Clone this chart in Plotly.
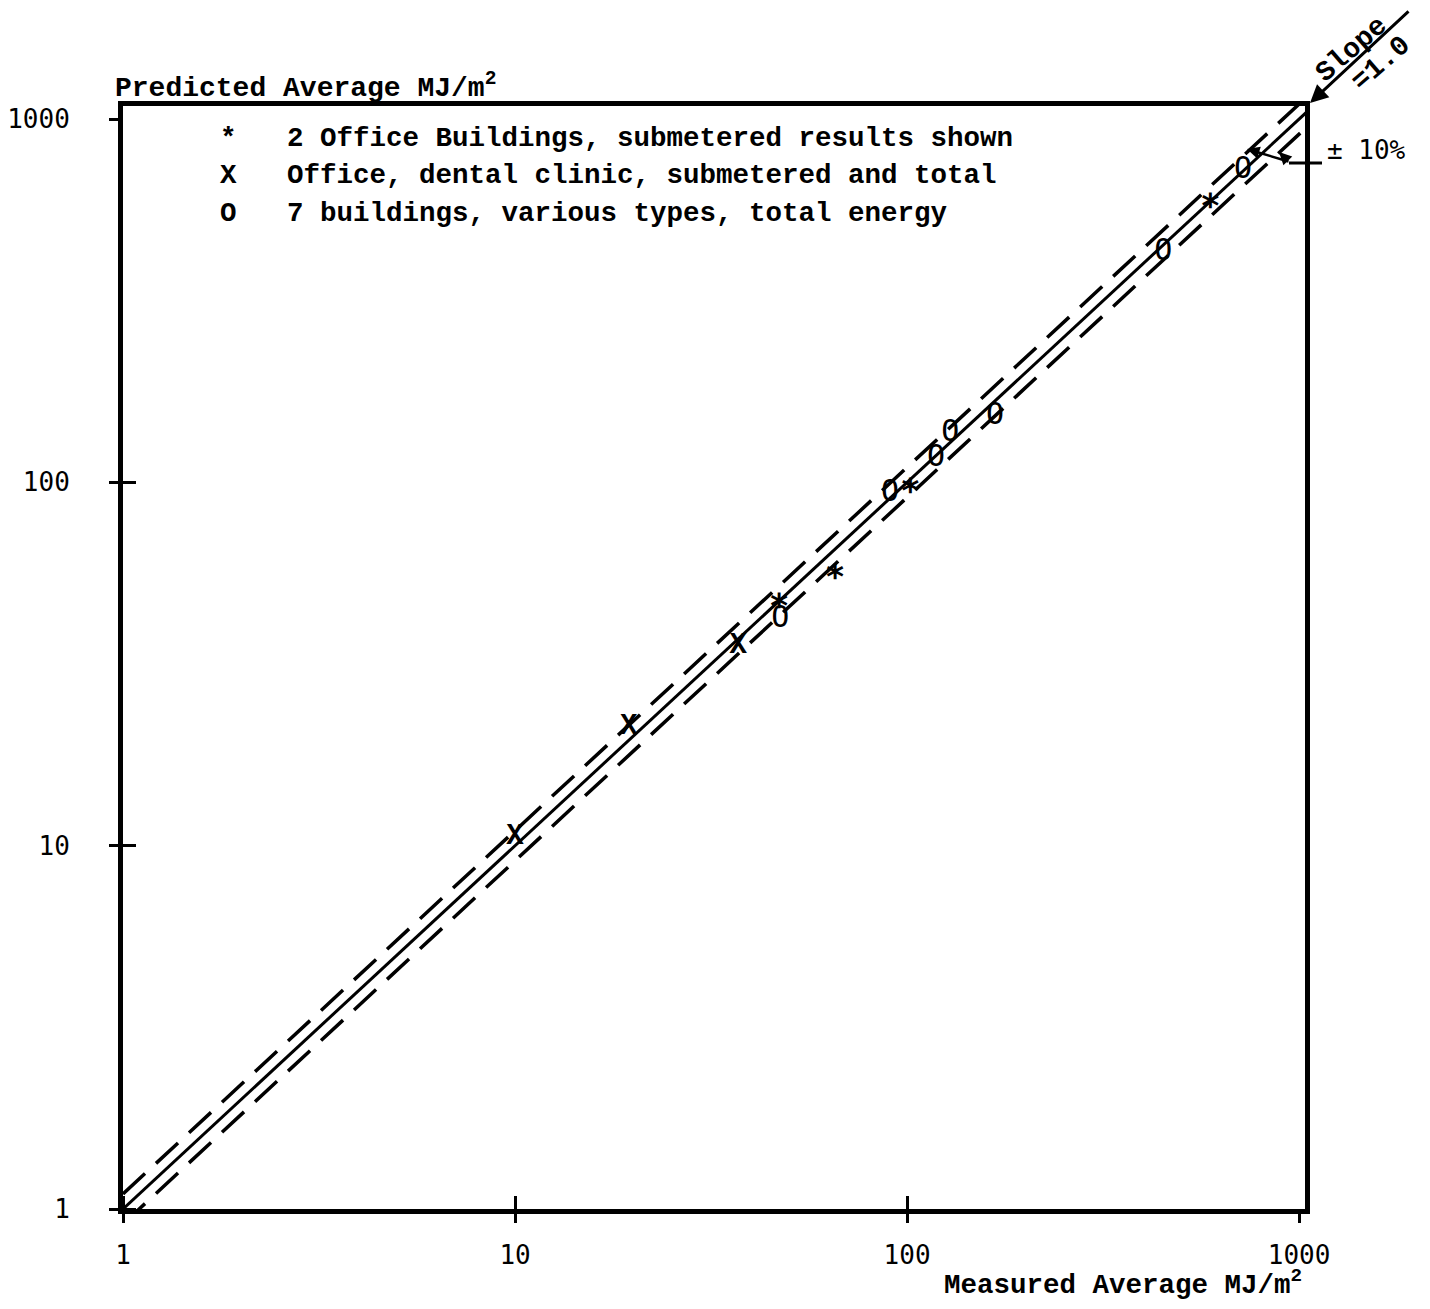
import plotly.graph_objects as go

# ---------------- data ----------------
star_x = [47.1, 65.5, 101.8, 593]
star_y = [46.6, 56.3, 96.9, 589]
x_x = [10.0, 19.5, 37.1]
x_y = [10.6, 21.3, 35.5]
o_x = [47.5, 90.5, 118.6, 128.8, 167.6, 450, 719]
o_y = [41.9, 93.3, 116.4, 136.2, 151.7, 429, 720]
ref_x = [1, 1100]
ref_y = [1, 1100]
upper_y = [1.1, 1210]
lower_y = [0.909, 1000]
tick_vals = [1, 10, 100, 1000]
tick_text = ["1", "10", "100", "1000"]
legend_symbols = ["*", "X", "O"]
legend_labels = [
    "2 Office Buildings, submetered results shown",
    "Office, dental clinic, submetered and total",
    "7 buildings, various types, total energy",
]

# ---------------- layout helpers ----------------
OFF = 8                      # page body margin
W, H = 1430 - 2 * OFF, 1309 - 2 * OFF
# plot area in figure pixels
L, R, T, B = 115, 1297, 98, 1201


def px(x):
    """screen x -> paper x"""
    return (x - OFF - L) / (R - L)


def py(y):
    """screen y -> paper y"""
    return (B - (y - OFF)) / (B - T)


TYPE = "Liberation Mono"
SANS = "DejaVu Sans Mono"

fig = go.Figure()

fig.add_trace(go.Scatter(x=ref_x, y=upper_y, mode="lines",
                         line=dict(color="black", width=3.5, dash="30px,15px"),
                         showlegend=False, hoverinfo="skip"))
fig.add_trace(go.Scatter(x=ref_x, y=lower_y, mode="lines",
                         line=dict(color="black", width=3.5, dash="30px,15px"),
                         showlegend=False, hoverinfo="skip"))
fig.add_trace(go.Scatter(x=ref_x, y=ref_y, mode="lines",
                         line=dict(color="black", width=3),
                         showlegend=False, hoverinfo="skip"))

fig.add_trace(go.Scatter(x=x_x, y=x_y, mode="text", text=["X"] * len(x_x),
                         textfont=dict(family=TYPE, size=29, color="black", weight="bold"),
                         textposition="middle center", showlegend=False))
fig.add_trace(go.Scatter(x=o_x, y=o_y, mode="text", text=["O"] * len(o_x),
                         textfont=dict(family=SANS, size=30, color="black"),
                         textposition="middle center", showlegend=False))
fig.add_trace(go.Scatter(x=star_x, y=star_y, mode="text", text=["\u2217"] * len(star_x),
                         textfont=dict(family=SANS, size=34, color="black", weight="bold"),
                         textposition="middle center", showlegend=False))

axis_common = dict(
    type="log", automargin=False,
    showline=True, linewidth=5, linecolor="black", mirror=True,
    showgrid=False, zeroline=False,
    tickmode="array", tickvals=tick_vals, ticktext=tick_text,
    ticks="outside", ticklen=9, tickwidth=3, tickcolor="black",
    minor=dict(tickmode="array", tickvals=[1, 10, 100], ticks="inside",
               ticklen=13, tickwidth=3, tickcolor="black", showgrid=False),
    tickfont=dict(family=SANS, size=26, color="black"),
)

fig.update_xaxes(range=[0, 3.015], ticklabelstandoff=10, **axis_common)
fig.update_yaxes(range=[0, 3.036], ticklabelstandoff=34, **axis_common)

ann = []
# legend
for i, (s, lab) in enumerate(zip(legend_symbols, legend_labels)):
    yc = 138 + i * 37.5
    ann.append(dict(x=px(228), y=py(yc), xref="paper", yref="paper",
                    text=s, showarrow=False, xanchor="center", yanchor="middle",
                    font=dict(family=TYPE, size=27.5, color="black", weight="bold")))
    ann.append(dict(x=px(285), y=py(yc), xref="paper", yref="paper",
                    text=lab, showarrow=False, xanchor="left", yanchor="middle",
                    font=dict(family=TYPE, size=27.5, color="black", weight="bold")))

# axis titles
ann.append(dict(x=px(113), y=py(86), xref="paper", yref="paper",
                text="Predicted Average MJ/m<sup>2</sup>", showarrow=False,
                xanchor="left", yanchor="middle",
                font=dict(family=TYPE, size=28, color="black", weight="bold")))
ann.append(dict(x=px(1304), y=py(1283), xref="paper", yref="paper",
                text="Measured Average MJ/m<sup>2</sup>", showarrow=False,
                xanchor="right", yanchor="middle",
                font=dict(family=TYPE, size=27.5, color="black", weight="bold")))

# slope arrow and label
ann.append(dict(x=px(1310), y=py(103), xref="paper", yref="paper", text="",
                showarrow=True, arrowhead=2, arrowsize=1.2, arrowwidth=3,
                arrowcolor="black", ax=100, ay=-93))
ann.append(dict(x=px(1352), y=py(50), xref="paper", yref="paper", text="Slope",
                showarrow=False, textangle=-41, xanchor="center", yanchor="middle",
                font=dict(family=TYPE, size=28, color="black", weight="bold")))
ann.append(dict(x=px(1381), y=py(63), xref="paper", yref="paper", text="=1.0",
                showarrow=False, textangle=-41, xanchor="center", yanchor="middle",
                font=dict(family=TYPE, size=28, color="black", weight="bold")))

# +-10% label and arrows
ann.append(dict(x=px(1325), y=py(150), xref="paper", yref="paper", text="\u00b1 10%",
                showarrow=False, xanchor="left", yanchor="middle",
                font=dict(family=SANS, size=26, color="black")))
ann.append(dict(x=px(1247), y=py(149), xref="paper", yref="paper", text="",
                showarrow=True, arrowhead=2, arrowsize=1, arrowwidth=2.5,
                arrowcolor="black", ax=43, ay=13))
ann.append(dict(x=px(1279), y=py(152), xref="paper", yref="paper", text="",
                showarrow=True, arrowhead=2, arrowsize=1, arrowwidth=2.5,
                arrowcolor="black", ax=10, ay=10))

fig.update_layout(
    width=W, height=H,
    margin=dict(l=L, r=W - R, t=T, b=H - B, autoexpand=False),
    plot_bgcolor="white", paper_bgcolor="white",
    annotations=ann,
    shapes=[dict(type="line", xref="paper", yref="paper",
                 x0=px(1289), x1=px(1322), y0=py(163), y1=py(163),
                 line=dict(color="black", width=3))],
    showlegend=False,
)

fig.write_html("out.html")
